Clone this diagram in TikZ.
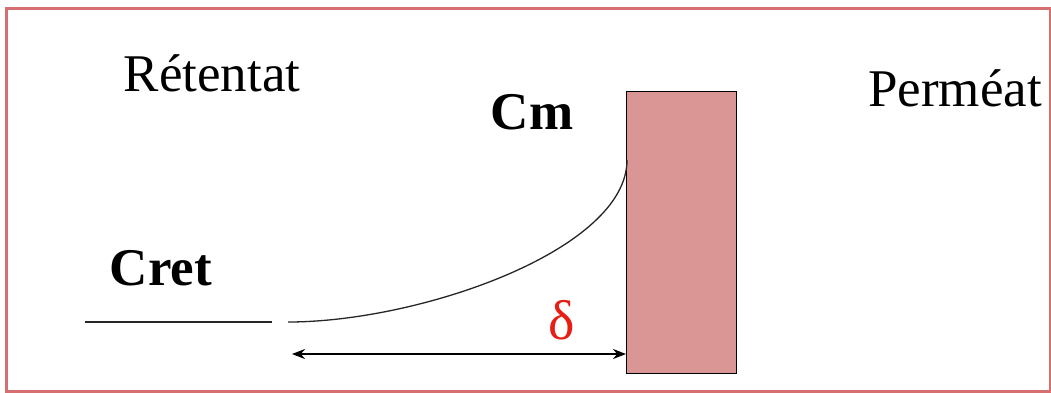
\documentclass[tikz,border=0pt]{standalone}
\usepackage{fontspec}
\setmainfont{Liberation Serif}
\usetikzlibrary{arrows.meta}
\definecolor{framered}{RGB}{214,112,112}
\definecolor{memb}{RGB}{217,150,148}
\definecolor{deltared}{RGB}{230,30,20}
\tikzset{
  lbl/.style={inner sep=0pt, font=\fontsize{53}{60}\selectfont},
  blbl/.style={inner sep=0pt, font=\fontsize{53}{60}\selectfont\bfseries},
  thinline/.style={line width=1.3pt, black!85},
}
\begin{document}
\begin{tikzpicture}[x=1pt,y=-1pt]
\useasboundingbox (0,0) rectangle (1051,392);
\fill[white] (0,0) rectangle (1051,392);
\draw[framered, line width=3pt] (6,8) rectangle (1050,391);
\node[draw=black, line width=1pt, fill=memb, minimum width=110pt, minimum height=282pt, inner sep=0pt, anchor=north west] (mem) at (626,91) {};
\node[lbl] (ret) at (212,73) {Rétentat};
\node[lbl] (perm) at (955,88) {Perméat};
\node[blbl] (cm) at (532,112) {Cm};
\node[blbl] (cret) at (161,268) {Cret};
\node[inner sep=0pt, text=deltared, font=\fontsize{56}{60}\selectfont] (delta) at (562,320) {δ};
\coordinate (l0) at (85,322);
\coordinate (l1) at (272,322);
\coordinate (c0) at (288,322);
\coordinate (c1) at (627,160);
\coordinate (a0) at (292,354);
\draw[thinline] (l0) -- (l1);
\draw[thinline] (c0) .. controls (420,322) and (627,250) .. (c1);
\draw[line width=2.2pt, {Stealth[length=13pt,width=10pt]}-{Stealth[length=13pt,width=10pt]}] (a0) -- (a0 -| mem.west);
\end{tikzpicture}
\end{document}
